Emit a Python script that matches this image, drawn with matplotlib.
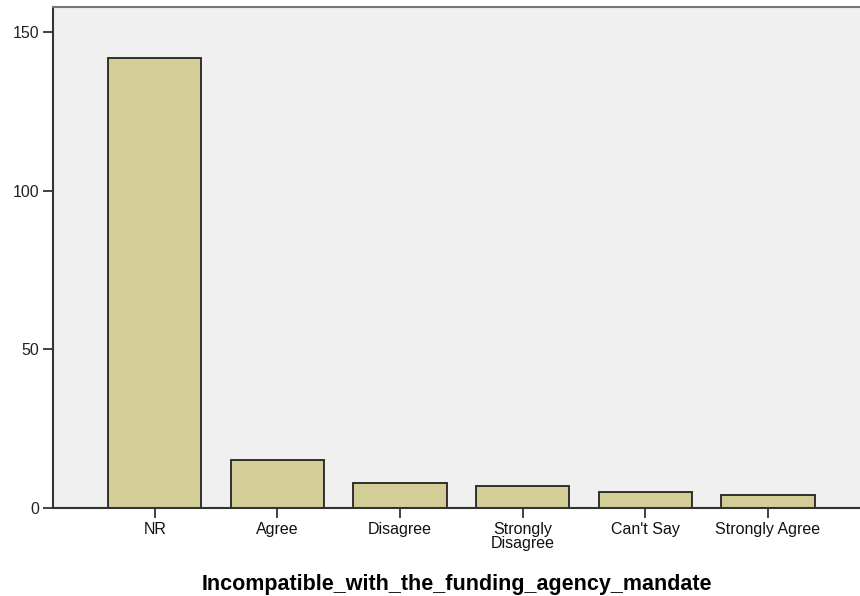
import numpy as np
import matplotlib.pyplot as plt

# data
categories = ['NR', 'Agree', 'Disagree', 'Strongly\nDisagree', "Can't Say", 'Strongly Agree']
counts = [142, 15, 8, 7, 5, 4]
y_ticks = [0, 50, 100, 150]

plt.rcParams['font.family'] = ['Liberation Sans', 'DejaVu Sans']

fig = plt.figure(figsize=(8.6, 5.96), dpi=100)
ax = fig.add_axes([53 / 860, 1 - 508 / 596, 1 - 53 / 860, (508 - 7) / 596])
ax.set_facecolor('#F0F0F0')

x = np.arange(len(categories))
ax.bar(x, counts, width=0.76, color='#D3CE97', edgecolor='#222222', linewidth=1.3, zorder=2)

ax.set_xlim(-0.83, 5.75)
ax.set_ylim(0, 158)
ax.set_xticks(x)
ax.set_xticklabels(categories, fontsize=11.5, linespacing=0.95, color='#111111')
ax.set_yticks(y_ticks)
ax.set_yticklabels([str(v) for v in y_ticks], fontsize=11.5, color='#222222')
ax.tick_params(axis='both', direction='out', length=7, width=1.3, color='#333333', pad=3)

for side in ['left', 'bottom']:
    ax.spines[side].set_color('#333333')
    ax.spines[side].set_linewidth(1.5)
ax.spines['top'].set_color('#777777')
ax.spines['top'].set_linewidth(1.5)
ax.spines['right'].set_visible(False)

ax.set_xlabel('Incompatible_with_the_funding_agency_mandate', fontsize=15.5,
              fontweight='bold', labelpad=16)

fig.savefig('out.png', dpi=100, facecolor='white')
